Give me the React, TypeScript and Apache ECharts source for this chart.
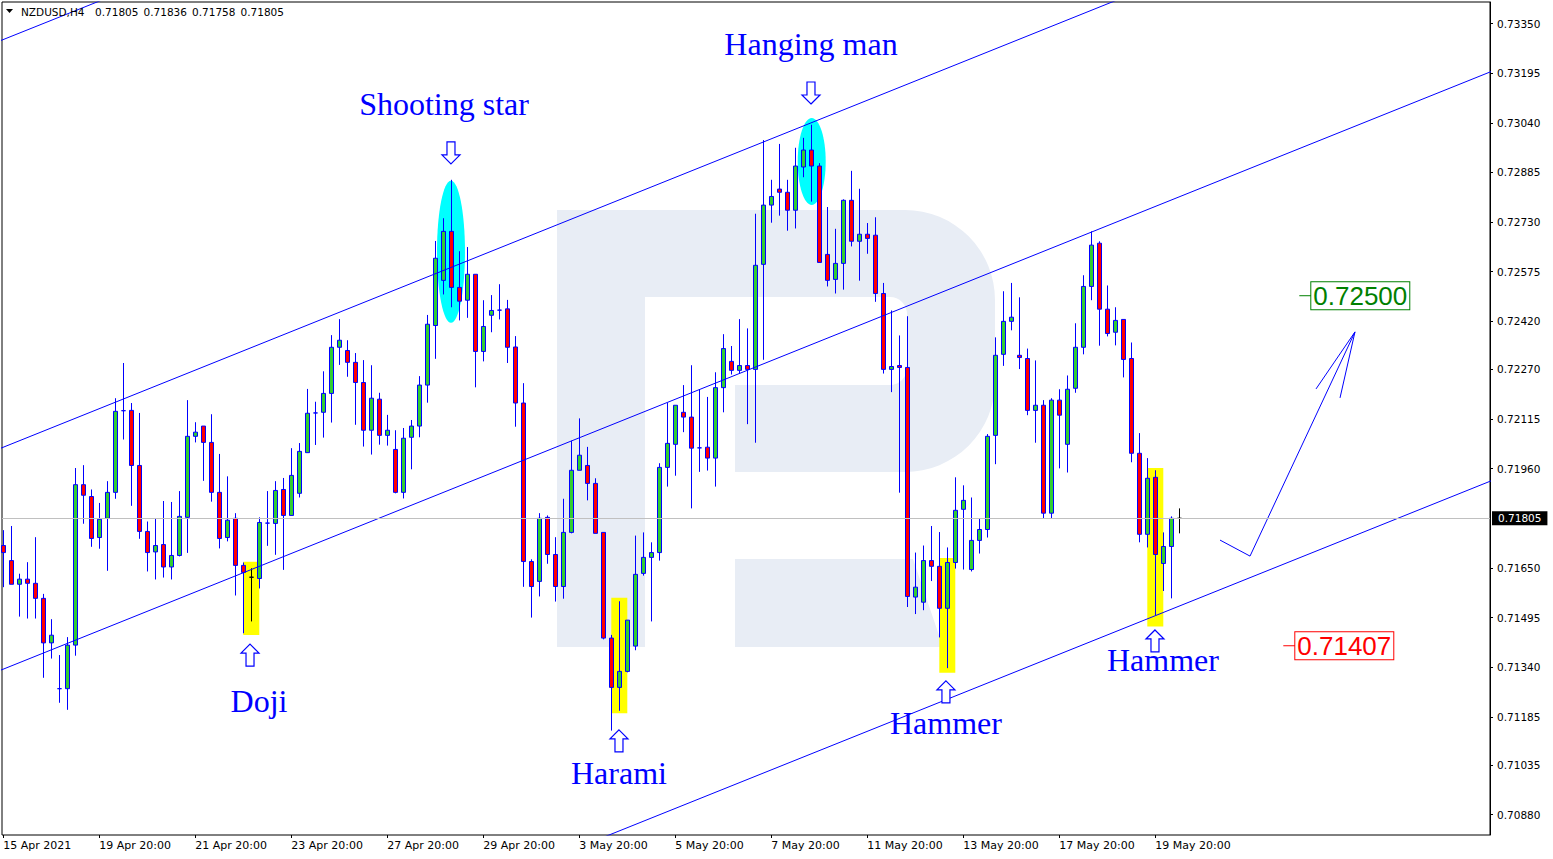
import React, { useEffect, useRef } from 'react';
import * as echarts from 'echarts';

// ---- time axis ----
const timeLabels = [
  '15 Apr 2021', '19 Apr 20:00', '21 Apr 20:00', '23 Apr 20:00', '27 Apr 20:00',
  '29 Apr 20:00', '3 May 20:00', '5 May 20:00', '7 May 20:00', '11 May 20:00',
  '13 May 20:00', '17 May 20:00', '19 May 20:00',
];
const LABEL_STEP = 12; // one time label every 12 H4 bars
const SLOTS = 186; // bar slots visible across the plot

// ---- NZDUSD H4 bars ----
const opens = [
  0.71720, 0.71673, 0.71599, 0.71615, 0.71602, 0.71555, 0.71416, 0.71273, 0.71273, 0.71409,
  0.71910, 0.71873, 0.71745, 0.71805, 0.71886, 0.72141, 0.72142, 0.71970, 0.71764, 0.71700,
  0.71723, 0.71653, 0.71689, 0.71808, 0.72061, 0.72093, 0.72042, 0.71886, 0.71745, 0.71805,
  0.71658, 0.71621, 0.71617, 0.71790, 0.71789, 0.71895, 0.71814, 0.71883, 0.72010, 0.72134,
  0.72136, 0.72195, 0.72339, 0.72329, 0.72292, 0.72229, 0.72080, 0.72177, 0.72064, 0.72020,
  0.71886, 0.72058, 0.72093, 0.72221, 0.72407, 0.72548, 0.72701, 0.72526, 0.72486, 0.72567,
  0.72326, 0.72439, 0.72455, 0.72459, 0.72340, 0.72165, 0.71670, 0.71608, 0.71808, 0.71692,
  0.71592, 0.71761, 0.71955, 0.71970, 0.71914, 0.71761, 0.71431, 0.71277, 0.71327, 0.71406,
  0.71633, 0.71683, 0.71698, 0.71964, 0.72036, 0.72136, 0.72121, 0.72025, 0.72027, 0.71993,
  0.72213, 0.72295, 0.72267, 0.72282, 0.72270, 0.72598, 0.72783, 0.72833, 0.72823, 0.72767,
  0.72902, 0.72955, 0.72905, 0.72629, 0.72551, 0.72601, 0.72798, 0.72670, 0.72692, 0.72689,
  0.72507, 0.72270, 0.72282, 0.72276, 0.71559, 0.71543, 0.71673, 0.71655, 0.71524, 0.71667,
  0.71833, 0.71645, 0.71736, 0.71770, 0.72064, 0.72317, 0.72420, 0.72314, 0.72304, 0.72142,
  0.72158, 0.71821, 0.72174, 0.72036, 0.72211, 0.72339, 0.72529, 0.72664, 0.72458, 0.72386,
  0.72426, 0.72304, 0.72008, 0.71755, 0.71933, 0.71664, 0.71717, 0.71805,
];
const closes = [
  0.71698, 0.71599, 0.71615, 0.71602, 0.71555, 0.71416, 0.71440, 0.71273, 0.71409, 0.71910,
  0.71877, 0.71742, 0.71802, 0.71886, 0.72139, 0.72141, 0.71970, 0.71764, 0.71698, 0.71720,
  0.71653, 0.71689, 0.71811, 0.72061, 0.72074, 0.72042, 0.71886, 0.71742, 0.71799, 0.71658,
  0.71636, 0.71621, 0.71792, 0.71790, 0.71892, 0.71814, 0.71939, 0.72014, 0.72133, 0.72134,
  0.72195, 0.72339, 0.72361, 0.72292, 0.72229, 0.72080, 0.72180, 0.72064, 0.72080, 0.71886,
  0.72055, 0.72093, 0.72221, 0.72411, 0.72617, 0.72701, 0.72526, 0.72483, 0.72567, 0.72326,
  0.72404, 0.72454, 0.72455, 0.72339, 0.72165, 0.71670, 0.71592, 0.71805, 0.71692, 0.71592,
  0.71761, 0.71955, 0.72002, 0.71914, 0.71758, 0.71431, 0.71277, 0.71327, 0.71487, 0.71630,
  0.71683, 0.71698, 0.71964, 0.72039, 0.72158, 0.72121, 0.72024, 0.72025, 0.71993, 0.72213,
  0.72335, 0.72267, 0.72282, 0.72270, 0.72595, 0.72783, 0.72810, 0.72823, 0.72767, 0.72905,
  0.72955, 0.72905, 0.72604, 0.72548, 0.72601, 0.72798, 0.72670, 0.72692, 0.72679, 0.72507,
  0.72270, 0.72279, 0.72276, 0.71561, 0.71590, 0.71673, 0.71655, 0.71524, 0.71667, 0.71830,
  0.71861, 0.71736, 0.71770, 0.72061, 0.72314, 0.72420, 0.72433, 0.72307, 0.72142, 0.72158,
  0.71821, 0.72174, 0.72127, 0.72208, 0.72339, 0.72529, 0.72658, 0.72458, 0.72382, 0.72423,
  0.72301, 0.72008, 0.71755, 0.71930, 0.71692, 0.71717, 0.71805, 0.71805,
];
const lows = [
  0.71590, 0.71599, 0.71498, 0.71492, 0.71492, 0.71307, 0.71367, 0.71229, 0.71207, 0.71376,
  0.71788, 0.71716, 0.71710, 0.71641, 0.71866, 0.72051, 0.71844, 0.71741, 0.71639, 0.71614,
  0.71620, 0.71614, 0.71686, 0.71697, 0.72042, 0.71922, 0.71857, 0.71711, 0.71733, 0.71564,
  0.71446, 0.71483, 0.71586, 0.71719, 0.71691, 0.71644, 0.71814, 0.71870, 0.72010, 0.72034,
  0.72057, 0.72104, 0.72284, 0.72247, 0.72097, 0.72029, 0.72004, 0.72035, 0.72032, 0.71883,
  0.71867, 0.71958, 0.72058, 0.72166, 0.72303, 0.72504, 0.72464, 0.72423, 0.72431, 0.72214,
  0.72295, 0.72386, 0.72426, 0.72290, 0.72091, 0.71591, 0.71495, 0.71561, 0.71663, 0.71545,
  0.71554, 0.71758, 0.71955, 0.71861, 0.71758, 0.71427, 0.71142, 0.71204, 0.71324, 0.71393,
  0.71626, 0.71483, 0.71673, 0.71904, 0.71938, 0.72074, 0.71836, 0.71950, 0.71954, 0.71904,
  0.72136, 0.72254, 0.72257, 0.72099, 0.72041, 0.72300, 0.72728, 0.72750, 0.72703, 0.72710,
  0.72870, 0.72794, 0.72604, 0.72529, 0.72507, 0.72519, 0.72654, 0.72547, 0.72631, 0.72481,
  0.72257, 0.72199, 0.71885, 0.71528, 0.71506, 0.71518, 0.71609, 0.71433, 0.71337, 0.71648,
  0.71645, 0.71639, 0.71695, 0.71745, 0.71974, 0.72281, 0.72392, 0.72271, 0.72127, 0.72041,
  0.71805, 0.71805, 0.71961, 0.71948, 0.72197, 0.72317, 0.72486, 0.72344, 0.72373, 0.72345,
  0.72245, 0.71980, 0.71730, 0.71714, 0.71503, 0.71578, 0.71555, 0.71758,
];
const highs = [
  0.71768, 0.71781, 0.71632, 0.71668, 0.71746, 0.71569, 0.71490, 0.71378, 0.71434, 0.71962,
  0.71971, 0.71895, 0.71853, 0.71921, 0.72180, 0.72290, 0.72165, 0.72134, 0.71795, 0.71806,
  0.71859, 0.71856, 0.71890, 0.72174, 0.72105, 0.72093, 0.72130, 0.72006, 0.71936, 0.71821,
  0.71667, 0.71649, 0.71808, 0.71890, 0.71921, 0.71931, 0.72024, 0.72040, 0.72209, 0.72169,
  0.72264, 0.72377, 0.72427, 0.72361, 0.72321, 0.72299, 0.72283, 0.72197, 0.72128, 0.72080,
  0.72087, 0.72112, 0.72249, 0.72440, 0.72671, 0.72742, 0.72862, 0.72639, 0.72652, 0.72567,
  0.72486, 0.72502, 0.72536, 0.72487, 0.72374, 0.72227, 0.71677, 0.71821, 0.71814, 0.71746,
  0.71866, 0.72047, 0.72117, 0.72028, 0.71930, 0.71761, 0.71441, 0.71546, 0.71487, 0.71751,
  0.71761, 0.71730, 0.71977, 0.72165, 0.72158, 0.72221, 0.72283, 0.72206, 0.72184, 0.72261,
  0.72380, 0.72343, 0.72427, 0.72398, 0.72756, 0.72986, 0.72862, 0.72974, 0.72862, 0.72962,
  0.72993, 0.73034, 0.72914, 0.72777, 0.72709, 0.72801, 0.72890, 0.72834, 0.72727, 0.72745,
  0.72540, 0.72454, 0.72376, 0.72436, 0.71698, 0.71720, 0.71781, 0.71762, 0.71714, 0.71933,
  0.71908, 0.71870, 0.71805, 0.72068, 0.72370, 0.72514, 0.72540, 0.72495, 0.72335, 0.72298,
  0.72174, 0.72180, 0.72208, 0.72251, 0.72414, 0.72564, 0.72701, 0.72670, 0.72532, 0.72464,
  0.72426, 0.72354, 0.72071, 0.71993, 0.71955, 0.71761, 0.71811, 0.71836,
];
const darkBars = [31, 147]; // bars drawn with a black outline

// ---- price scale ----
const priceTicks = [
  0.73350, 0.73195, 0.73040, 0.72885, 0.72730, 0.72575, 0.72420, 0.72270,
  0.72115, 0.71960, 0.71650, 0.71495, 0.71340, 0.71185, 0.71035, 0.70880,
];
const Y_MIN = 0.708161;
const Y_MAX = 0.734172;
const lastPrice = 0.71805;
const headerSymbol = 'NZDUSD,H4';
const headerQuote = ['0.71805', '0.71836', '0.71758', '0.71805'];

// value x axis of the overlay grid, in bar units (bar k is centred on k)
const X_MIN = -0.1625;
const X_MAX = 185.8375;

// ---- drawn objects, in [bar, price] ----
const channelLines = [
  [[0, 0.73300], [10, 0.73400]],
  [[0, 0.72027], [130, 0.73331]],
  [[0, 0.71334], [180, 0.73140]],
  [[80, 0.70859], [180, 0.71862]],
];
// [fromBar, toBar, topPrice, bottomPrice]
const highlightBoxes = [
  [30, 32, 0.71669, 0.71441],
  [76, 78, 0.71557, 0.71196],
  [117, 119, 0.71681, 0.71323],
  [143, 145, 0.71962, 0.71467],
];
// [bar, price, radius in bars, radius in price]
const highlightOvals = [
  [55.96, 0.72637, 1.75, 0.002217],
  [101.05, 0.72919, 1.75, 0.001358],
];
const patternNames = ['Shooting star', 'Hanging man', 'Doji', 'Harami', 'Hammer', 'Hammer'];
const patternNameAt = [
  [55.09, 0.73099], [100.96, 0.73286], [31.96, 0.71235],
  [76.96, 0.71010], [117.83, 0.71166], [144.96, 0.71363],
];
const patternArrowDir = ['down', 'down', 'up', 'up', 'up', 'up'];
const patternArrowAt = [
  [55.96, 0.72946], [100.96, 0.73133], [30.84, 0.71378],
  [76.96, 0.71110], [117.83, 0.71263], [143.96, 0.71422],
];
const forecastPath = [[152.09, 0.71737], [155.84, 0.71687], [168.96, 0.72387]];
const forecastHead = [[164.09, 0.72209], [168.96, 0.72387], [167.09, 0.72181]];
const targetPrices = [0.72500, 0.71407];
const targetBars = [162, 160];
const targetColors = ['#008000', '#ff0000'];

// background brand mark
const MARK_D =
  'M0 0H348A90 90 0 0 1 438 90V172A90 90 0 0 1 348 262H178V175H333A17 17 0 0 0 350 158V104' +
  'A17 17 0 0 0 333 87H88V437H0Z M178 349H356L386 437H178Z';
echarts.graphic.registerShape('brandMark', echarts.graphic.extendPath(MARK_D, {}));

const BLUE = '#0000ff';
const UI_FONT = 'DejaVu Sans';

const isLabelSlot = (i: number) => i % LABEL_STEP === 0 && i / LABEL_STEP < timeLabels.length;

function extendLine(a: number[], b: number[], k: number) {
  return a[1] + ((b[1] - a[1]) * (k - a[0])) / (b[0] - a[0]);
}

function buildOption(): any {
  const categories = Array.from({ length: SLOTS }, (_, i) => String(i));
  const candles = opens.map((o, i) => {
    const item: any = { value: [o, closes[i], lows[i], highs[i]] };
    if (darkBars.includes(i)) {
      item.itemStyle = { borderColor: '#000', borderColor0: '#000', borderColorDoji: '#000' };
    }
    return item;
  });

  const lineSeries = channelLines.map((ln) => ({
    type: 'line',
    xAxisIndex: 1,
    yAxisIndex: 1,
    data: [
      [-3, extendLine(ln[0], ln[1], -3)],
      [192, extendLine(ln[0], ln[1], 192)],
    ],
    symbol: 'none',
    showSymbol: false,
    clip: true,
    silent: true,
    z: 3,
    lineStyle: { color: BLUE, width: 1 },
  }));

  return {
    animation: false,
    backgroundColor: '#ffffff',
    grid: [
      { left: -0.7, top: 2, width: 1488, height: 833, containLabel: false, outerBoundsMode: 'none' },
      {
        left: 2, top: 2, width: 1488, height: 833, containLabel: false, outerBoundsMode: 'none',
        show: true, borderColor: '#000', borderWidth: 1, backgroundColor: 'transparent',
      },
    ],
    xAxis: [
      {
        type: 'category',
        gridIndex: 0,
        data: categories,
        boundaryGap: true,
        axisLine: { show: false },
        axisTick: { show: true, interval: isLabelSlot, alignWithLabel: true, length: 3, lineStyle: { color: '#000' } },
        axisLabel: {
          interval: isLabelSlot,
          formatter: (v: string) => timeLabels[Number(v) / LABEL_STEP] ?? '',
          align: 'left',
          margin: 5,
          color: '#000',
          fontSize: 11,
          fontFamily: UI_FONT,
        },
        splitLine: { show: false },
      },
      { type: 'value', gridIndex: 1, min: X_MIN, max: X_MAX, show: false, splitLine: { show: false } },
    ],
    yAxis: [
      { type: 'value', gridIndex: 0, min: Y_MIN, max: Y_MAX, show: false, splitLine: { show: false } },
      {
        type: 'value',
        gridIndex: 1,
        position: 'right',
        min: Y_MIN,
        max: Y_MAX,
        axisLine: { show: true, onZero: false, lineStyle: { color: '#000', width: 1 } },
        axisTick: { show: true, inside: false, length: 3, customValues: priceTicks, lineStyle: { color: '#000' } },
        axisLabel: {
          customValues: priceTicks,
          formatter: (v: number) => v.toFixed(5),
          margin: 7,
          color: '#000',
          fontSize: 10.5,
          fontFamily: UI_FONT,
        },
        splitLine: { show: false },
      },
    ],
    series: [
      {
        type: 'line',
        xAxisIndex: 1,
        yAxisIndex: 1,
        data: [[147, lastPrice]],
        symbol: 'none',
        showSymbol: false,
        silent: true,
        z: 1,
        lineStyle: { width: 0 },
        markLine: {
          silent: true,
          precision: 5,
          symbol: ['none', 'none'],
          animation: false,
          lineStyle: { color: '#c0c0c0', width: 1, type: 'solid' },
          label: {
            show: true,
            position: 'end',
            distance: 2,
            formatter: lastPrice.toFixed(5),
            color: '#fff',
            backgroundColor: '#000',
            padding: [2, 6, 1, 6],
            fontSize: 10.5,
            fontFamily: UI_FONT,
          },
          data: [{ yAxis: lastPrice }],
        },
      },
      {
        type: 'candlestick',
        xAxisIndex: 0,
        yAxisIndex: 0,
        data: candles,
        barWidth: 4,
        z: 2,
        silent: true,
        itemStyle: {
          color: '#32cd32',
          color0: '#ff0000',
          borderColor: BLUE,
          borderColor0: BLUE,
          borderColorDoji: BLUE,
          borderWidth: 1,
        },
      },
      ...lineSeries,
    ],
  };
}

function buildGraphics(px: (k: number, p: number) => number[]) {
  const g: any[] = [];

  g.push({ type: 'brandMark', x: 557, y: 210, z: -5, silent: true, style: { fill: '#e8edf5' } });

  highlightBoxes.forEach(([k0, k1, pTop, pBot]) => {
    const a = px(k0, pTop);
    const b = px(k1, pBot);
    g.push({
      type: 'rect', z: 1, silent: true,
      shape: { x: a[0], y: a[1], width: b[0] - a[0], height: b[1] - a[1] },
      style: { fill: '#ffff00' },
    });
  });

  highlightOvals.forEach(([k, p, rk, rp]) => {
    const c = px(k, p);
    const e = px(k + rk, p + rp);
    g.push({
      type: 'ellipse', z: 1, silent: true,
      shape: { cx: c[0], cy: c[1], rx: Math.abs(e[0] - c[0]), ry: Math.abs(c[1] - e[1]) },
      style: { fill: '#00ffff' },
    });
  });

  patternNames.forEach((name, i) => {
    const [k, p] = patternNameAt[i];
    const c = px(k, p);
    g.push({
      type: 'text', z: 6, silent: true, x: c[0], y: c[1],
      style: {
        text: name, fill: BLUE, fontSize: 32, fontFamily: 'Liberation Serif',
        align: 'center', verticalAlign: 'middle', textAlign: 'center', textVerticalAlign: 'middle',
      },
    });
    const [ak, ap] = patternArrowAt[i];
    const ac = px(ak, ap);
    const s = patternArrowDir[i] === 'up' ? 1 : -1;
    const pts = [
      [0, -11], [9, -2], [4, -2], [4, 11], [-4, 11], [-4, -2], [-9, -2],
    ].map(([dx, dy]) => [ac[0] + dx, ac[1] + s * dy]);
    g.push({
      type: 'polygon', z: 6, silent: true,
      shape: { points: pts },
      style: { fill: '#ffffff', stroke: BLUE, lineWidth: 1.2 },
    });
  });

  g.push({
    type: 'polyline', z: 4, silent: true,
    shape: { points: forecastPath.map(([k, p]) => px(k, p)) },
    style: { stroke: BLUE, lineWidth: 1, fill: null },
  });
  g.push({
    type: 'polyline', z: 4, silent: true,
    shape: { points: forecastHead.map(([k, p]) => px(k, p)) },
    style: { stroke: BLUE, lineWidth: 1, fill: null },
  });

  targetPrices.forEach((v, i) => {
    const a = px(targetBars[i], v);
    const b = px(targetBars[i] + 1.5, v);
    const col = targetColors[i];
    g.push({
      type: 'line', z: 4, silent: true,
      shape: { x1: a[0], y1: a[1], x2: b[0], y2: b[1] },
      style: { stroke: col, lineWidth: 1 },
    });
    g.push({
      type: 'text', z: 4, silent: true, x: b[0], y: b[1],
      style: {
        text: v.toFixed(5), fill: col, fontSize: 26, fontFamily: 'Liberation Sans',
        align: 'left', verticalAlign: 'middle', textAlign: 'left', textVerticalAlign: 'middle',
        backgroundColor: '#ffffff', borderColor: col, borderWidth: 1, padding: [1, 2, 0, 2],
      },
    });
  });

  // chart caption
  g.push({
    type: 'polygon', z: 6, silent: true,
    shape: { points: [[6, 9], [13, 9], [9.5, 13]] },
    style: { fill: '#000' },
  });
  g.push({
    type: 'text', z: 6, silent: true, x: 21, y: 12,
    style: {
      text: headerSymbol, fill: '#000', fontSize: 10.5, fontFamily: UI_FONT,
      align: 'left', verticalAlign: 'middle', textAlign: 'left', textVerticalAlign: 'middle',
    },
  });
  headerQuote.forEach((q, i) => {
    g.push({
      type: 'text', z: 6, silent: true, x: 95 + i * 48.5, y: 12,
      style: {
        text: q, fill: '#000', fontSize: 10.5, fontFamily: UI_FONT,
        align: 'left', verticalAlign: 'middle', textAlign: 'left', textVerticalAlign: 'middle',
      },
    });
  });

  return g;
}

export default function App() {
  const ref = useRef<HTMLDivElement>(null);

  useEffect(() => {
    const el = ref.current;
    if (!el) return;
    const chart = echarts.init(el, null, { renderer: 'svg' });
    chart.setOption(buildOption());

    const manual = (k: number, p: number) => [
      2 + ((k - X_MIN) / (X_MAX - X_MIN)) * 1488,
      2 + ((Y_MAX - p) / (Y_MAX - Y_MIN)) * 833,
    ];
    const px = (k: number, p: number): number[] => {
      let r: any = null;
      try {
        r = chart.convertToPixel({ xAxisIndex: 1, yAxisIndex: 1 } as any, [k, p]);
      } catch (e) {
        r = null;
      }
      if (Array.isArray(r) && isFinite(r[0]) && isFinite(r[1])) return r as number[];
      return manual(k, p);
    };
    chart.setOption({ graphic: buildGraphics(px) });

    return () => chart.dispose();
  }, []);

  return (
    <div
      ref={ref}
      style={{ position: 'fixed', left: 0, top: 0, width: 1553, height: 859, background: '#fff' }}
    />
  );
}
